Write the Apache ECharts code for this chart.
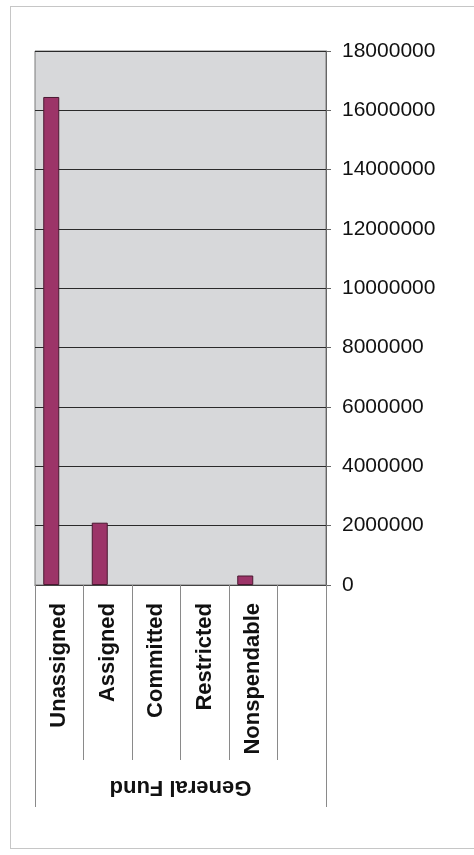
<!DOCTYPE html>
<html>
<head>
<meta charset="utf-8">
<script src="https://cdn.jsdelivr.net/npm/echarts@6/dist/echarts.min.js"></script>
<style>
    html, body {
        margin: 0;
        padding: 0;
        background: #fff;
        overflow: hidden;
    }
    #frame {
        position: absolute;
        left: 10px;
        top: 6px;
        width: 470px;
        height: 841px;
        border: 1px solid #c6c6c6;
    }
    #chart {
        position: absolute;
        left: 0;
        top: 0;
        width: 474px;
        height: 855px;
    }
</style>
</head>
<body>
<div id="frame"></div>
<div id="chart"></div>
<script>
    // data
    var categories = ['Unassigned', 'Assigned', 'Committed', 'Restricted', 'Nonspendable', ''];
    var groupLabels = ['General Fund'];
    var fundValues = [16450000, 2100000, 0, 0, 320000, null];
    var emptyValues = [null, null, null, null, null, null];   // second, empty series of the original
    var yTicks = { min: 0, max: 18000000, step: 2000000 };

    var chartDom = document.getElementById('chart');
    var myChart = echarts.init(chartDom);
    var font = '"Liberation Sans", Arial, sans-serif';

    // zero bars are not drawn in the original, so drop their border
    var fundData = fundValues.map(function (v) {
        if (v === 0) {
            return { value: v, itemStyle: { borderWidth: 0 } };
        }
        return v;
    });

    var option = {
        backgroundColor: 'transparent',
        animation: false,
        grid: {
            left: 35,
            right: 148,
            top: 51,
            bottom: 270,
            show: true,
            backgroundColor: '#d7d8da',
            borderColor: '#7a7a7a',
            borderWidth: 1
        },
        xAxis: [
            {
                type: 'category',
                data: categories,
                position: 'bottom',
                axisLine: { show: true, lineStyle: { color: '#444', width: 1 } },
                axisTick: { show: true, length: 175, lineStyle: { color: '#8a8a8a', width: 1 } },
                axisLabel: {
                    rotate: 90,
                    margin: 18,
                    interval: 0,
                    fontFamily: font,
                    fontSize: 22,
                    fontWeight: 'bold',
                    color: '#111'
                },
                splitLine: { show: false }
            },
            {
                type: 'category',
                data: groupLabels,
                position: 'bottom',
                axisLine: { show: false },
                axisTick: { show: true, length: 222, lineStyle: { color: '#8a8a8a', width: 1 } },
                axisLabel: {
                    rotate: 180,
                    margin: 191,
                    fontFamily: font,
                    fontSize: 22,
                    fontWeight: 'bold',
                    color: '#111'
                },
                splitLine: { show: false }
            }
        ],
        yAxis: {
            type: 'value',
            position: 'right',
            min: yTicks.min,
            max: yTicks.max,
            interval: yTicks.step,
            axisLine: { show: true, lineStyle: { color: '#666' } },
            axisTick: { show: true, length: 5, lineStyle: { color: '#666' } },
            axisLabel: {
                margin: 16,
                fontFamily: font,
                fontSize: 21,
                color: '#111',
                formatter: function (v) {
                    return String(v);
                }
            },
            splitLine: { show: true, lineStyle: { color: '#2a2a2a', width: 1 } }
        },
        series: [
            {
                name: 'General Fund',
                type: 'bar',
                xAxisIndex: 0,
                data: fundData,
                barWidth: 16,
                barGap: '0%',
                itemStyle: {
                    color: '#9c3468',
                    borderColor: '#4a1830',
                    borderWidth: 1
                }
            },
            {
                name: 'Other',
                type: 'bar',
                xAxisIndex: 0,
                data: emptyValues,
                barWidth: 16,
                barGap: '0%',
                itemStyle: { color: '#9999ff' }
            }
        ]
    };

    option && myChart.setOption(option);
</script>
</body>
</html>
